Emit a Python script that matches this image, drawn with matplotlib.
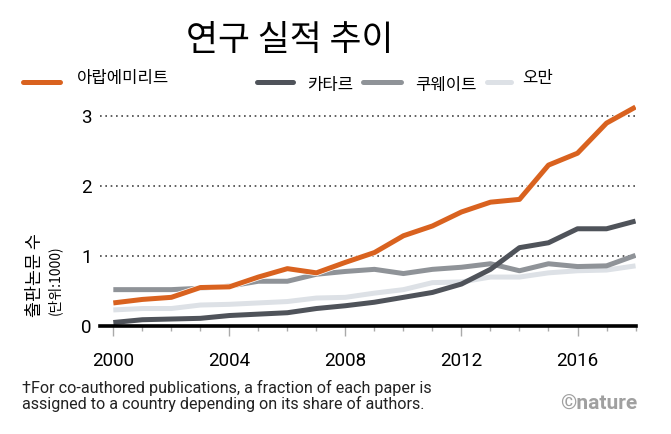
import matplotlib
matplotlib.use("Agg")
import matplotlib.pyplot as plt
from matplotlib.lines import Line2D
import matplotlib.patheffects as pe

plt.rcParams['font.family'] = ['Noto Sans CJK KR', 'DejaVu Sans']

years = list(range(2000, 2019))
uae = [0.33, 0.38, 0.41, 0.55, 0.56, 0.70, 0.82, 0.76, 0.91, 1.05,
       1.29, 1.43, 1.63, 1.77, 1.81, 2.30, 2.47, 2.90, 3.13]
qatar = [0.05, 0.09, 0.10, 0.11, 0.15, 0.17, 0.19, 0.25, 0.29, 0.34,
         0.41, 0.48, 0.60, 0.81, 1.12, 1.19, 1.39, 1.39, 1.50]
kuwait = [0.52, 0.52, 0.52, 0.54, 0.57, 0.64, 0.64, 0.74, 0.78, 0.81,
          0.75, 0.81, 0.84, 0.89, 0.79, 0.89, 0.85, 0.86, 1.01]
oman = [0.23, 0.25, 0.25, 0.30, 0.31, 0.33, 0.35, 0.40, 0.41, 0.47,
        0.52, 0.62, 0.63, 0.70, 0.70, 0.76, 0.79, 0.80, 0.86]

names = ["아랍에미리트", "카타르", "쿠웨이트", "오만"]
colors = ["#d9621f", "#4f535a", "#8f9398", "#dde1e6"]
yticks = [0, 1, 2, 3]
xticks = [2000, 2004, 2008, 2012, 2016]

fig = plt.figure(figsize=(6.71, 4.34), dpi=100)
ax = fig.add_axes([0.149, 0.2488, 0.799, 0.532])

ax.plot(years, oman, color=colors[3], lw=3.6, solid_capstyle="butt", zorder=3)
ax.plot(years, kuwait, color=colors[2], lw=3.6, solid_capstyle="butt", zorder=4)
ax.plot(years, qatar, color=colors[1], lw=3.6, solid_capstyle="butt", zorder=5)
ax.plot(years, uae, color=colors[0], lw=3.6, solid_capstyle="butt", zorder=6,
        path_effects=[pe.Stroke(linewidth=4.6, foreground="white"), pe.Normal()])

for v in yticks[1:]:
    ax.axhline(v, color="#444444", lw=1.2, ls=(0, (1, 2.2)), zorder=1)
ax.axhline(0, color="black", lw=2.6, zorder=7, clip_on=False)

ax.set_xlim(1999.54, 2018.02)
ax.set_ylim(0, 3.3)
for s in ax.spines.values():
    s.set_visible(False)

ax.set_yticks(yticks)
ax.set_yticklabels([str(v) for v in yticks], fontsize=13.5, family="Roboto")
ax.tick_params(axis="y", length=0, pad=6)

ax.set_xticks(xticks)
ax.set_xticks(years, minor=True)
ax.set_xticklabels([str(v) for v in xticks], fontsize=13.5, family="Roboto")
ax.tick_params(axis="x", which="major", length=7.5, width=1, color="#aaaaaa", pad=11)
ax.tick_params(axis="x", which="minor", length=3.8, width=1, color="#aaaaaa")

fig.text(0.432, 0.907, "연구 실적 추이", fontsize=25, weight="light",
         ha="center", va="center")

# legend, staggered as in the original
leg = [(0.034, 0.089, 0.115, 0.820),
       (0.383, 0.437, 0.458, 0.802),
       (0.541, 0.598, 0.618, 0.802),
       (0.726, 0.762, 0.778, 0.820)]
for (x0, x1, tx, ty), name, c in zip(leg, names, colors):
    fig.add_artist(Line2D([x0, x1], [0.811, 0.811], color=c, lw=3.6,
                          solid_capstyle="round", transform=fig.transFigure))
    fig.text(tx, ty, name, fontsize=12, va="center", ha="left")

fig.text(0.052, 0.366, "출판논문 수", rotation=90, fontsize=12.5,
         ha="center", va="center")
fig.text(0.082, 0.355, "(단위:1000)", rotation=90, fontsize=10,
         ha="center", va="center")

fig.text(0.033, 1 - 388 / 434,
         "†For co-authored publications, a fraction of each paper is",
         fontsize=11.6, family="Roboto", color="#222222", va="center")
fig.text(0.033, 1 - 404 / 434,
         "assigned to a country depending on its share of authors.",
         fontsize=11.6, family="Roboto", color="#222222", va="center")
fig.text(0.950, 1 - 404 / 434, "©nature", fontsize=15, family="Roboto",
         weight="bold", color="#a0a0a0", ha="right", va="center")

fig.savefig("out.png", dpi=100)
